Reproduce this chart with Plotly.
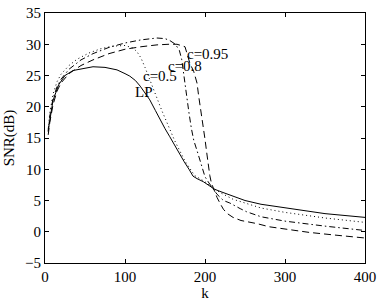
import plotly.graph_objects as go

# ---- data ----
k_lp = [4, 6, 10, 17, 25, 35, 48, 60, 75, 90, 100, 106, 113, 119, 125, 131, 138, 144, 150, 156,
        162, 168, 174, 180, 185, 190, 198, 205, 212, 220, 230, 236, 240, 250, 270, 300, 320, 350, 375, 400]
snr_lp = [16.2, 18.0, 21.0, 23.5, 25.0, 25.8, 26.1, 26.4, 26.3, 25.9, 25.3, 24.9, 24.2, 23.3, 22.2, 21.1, 19.4, 17.9, 16.5, 15.2,
          13.8, 12.4, 11.2, 10.0, 8.9, 8.5, 8.0, 7.4, 6.8, 6.4, 5.9, 5.7, 5.4, 5.0, 4.4, 3.8, 3.4, 2.9, 2.6, 2.3]

k_c05 = [4, 6, 10, 15, 20, 30, 40, 55, 70, 85, 100, 110, 115, 120, 125, 130, 135, 140, 146, 152,
         162, 175, 187, 200, 210, 220, 235, 250, 270, 300, 350, 400]
snr_c05 = [16.5, 19.0, 22.0, 24.0, 25.2, 26.6, 27.6, 28.6, 29.3, 29.7, 29.8, 29.4, 28.8, 27.8, 26.3, 24.6, 22.9, 21.2, 19.4, 17.6,
           14.6, 11.3, 9.0, 8.0, 7.0, 6.2, 5.2, 4.6, 3.8, 3.1, 2.2, 1.5]

k_c08 = [4, 6, 10, 15, 20, 30, 45, 60, 80, 100, 120, 140, 150, 156, 163, 168, 171, 174, 177, 180,
         183, 186, 190, 195, 200, 205, 210, 215, 223, 231, 244, 252, 270, 281, 300, 350, 400]
snr_c08 = [16.0, 18.5, 21.3, 23.2, 24.4, 26.0, 27.5, 28.5, 29.5, 30.2, 30.7, 31.0, 30.9, 30.6, 30.0, 29.0, 27.5, 24.5, 21.5, 19.0,
           16.5, 14.6, 13.0, 10.8, 8.8, 7.8, 6.8, 6.0, 5.0, 4.6, 3.7, 3.2, 2.4, 2.1, 1.7, 0.9, 0.2]

k_c095 = [4, 6, 10, 15, 20, 30, 45, 60, 80, 100, 120, 140, 155, 165, 175, 181, 186, 190, 192, 194,
          196, 198, 200, 202, 204, 206, 208, 211, 215, 219, 223, 228, 235, 245, 255, 265, 280, 300, 330, 360, 400]
snr_c095 = [15.5, 17.5, 20.3, 22.5, 23.8, 25.3, 26.6, 27.5, 28.5, 29.2, 29.6, 29.9, 30.0, 30.0, 29.6, 27.0, 25.6, 23.8, 21.8, 20.2,
            18.6, 16.3, 14.8, 12.8, 10.6, 9.0, 7.8, 6.8, 5.5, 4.5, 3.6, 2.9, 2.3, 1.8, 1.6, 1.3, 0.8, 0.4, -0.1, -0.5, -1.0]

labels = ["LP", "c=0.5", "c=0.8", "c=0.95"]
label_k = [112, 123, 154, 177]
label_snr = [22.4, 24.9, 26.5, 28.5]

x_ticks = [0, 100, 200, 300, 400]
y_ticks = [-5, 0, 5, 10, 15, 20, 25, 30, 35]

FONT = "Liberation Serif, Times New Roman, serif"
FS = 15

fig = go.Figure()
series = [
    (k_lp, snr_lp, "solid", "LP"),
    (k_c05, snr_c05, "1px,3px", "c=0.5"),
    (k_c08, snr_c08, "6px,3px,1.5px,3px", "c=0.8"),
    (k_c095, snr_c095, "7px,4px", "c=0.95"),
]
for kx, sy, dash, name in series:
    fig.add_trace(go.Scatter(x=kx, y=sy, mode="lines", name=name,
                             line=dict(color="black", width=1, dash=dash)))

for t, kx, sy in zip(labels, label_k, label_snr):
    fig.add_annotation(x=kx, y=sy, text=t, showarrow=False, xanchor="left", yanchor="middle",
                       xshift=-2, font=dict(family=FONT, size=FS, color="black"))

axis_common = dict(showline=True, linecolor="black", linewidth=1, mirror="allticks",
                   ticks="inside", ticklen=4, tickcolor="black", showgrid=False, zeroline=False,
                   automargin=False, ticklabeloverflow="allow",
                   tickfont=dict(family=FONT, size=FS, color="black"))
fig.update_xaxes(range=[0, 400], tickvals=x_ticks, title=dict(text="k", standoff=2,
                 font=dict(family=FONT, size=FS, color="black")), **axis_common)
fig.update_yaxes(range=[-5, 35], tickvals=y_ticks, title=dict(text="SNR(dB)", standoff=6,
                 font=dict(family=FONT, size=FS, color="black")), **axis_common)

fig.update_layout(width=382, height=301, margin=dict(l=45, r=17, t=13, b=38),
                  paper_bgcolor="white", plot_bgcolor="white", showlegend=False,
                  font=dict(family=FONT, size=FS, color="black"))
# remove the default page body margin so the figure sits at the window's top-left corner
fig.write_html("out.html", config={"displayModeBar": False},
               post_script="document.body.style.margin='0px';")
